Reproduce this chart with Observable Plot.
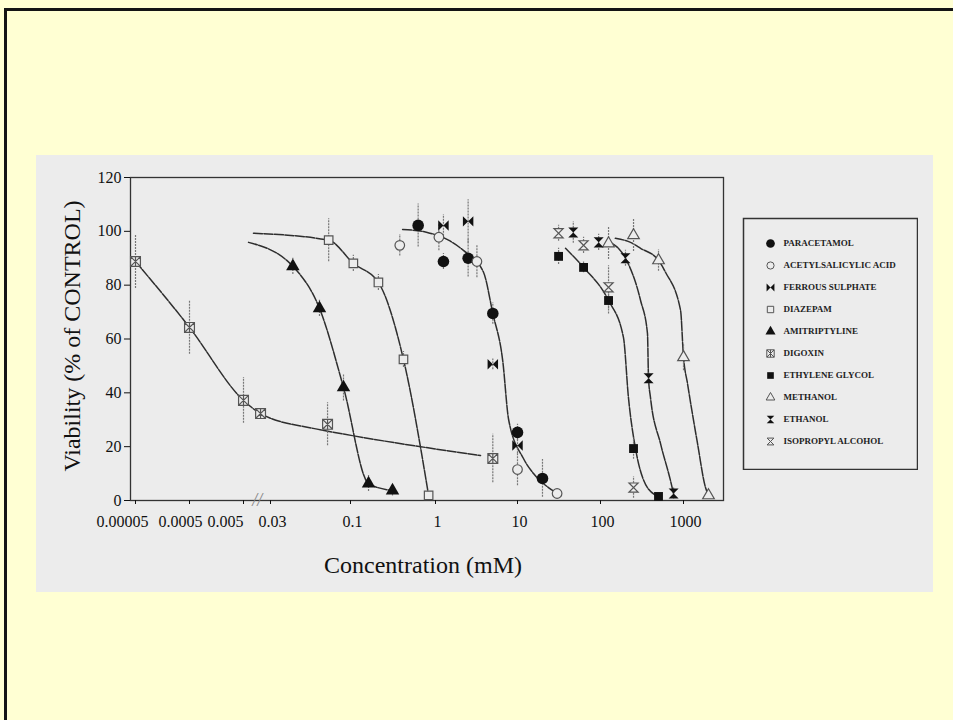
<!DOCTYPE html>
<html><head><meta charset="utf-8">
<script src="https://cdn.jsdelivr.net/npm/d3@7"></script>
<script src="https://cdn.jsdelivr.net/npm/@observablehq/plot@0.6"></script>
<style>
html,body{margin:0;padding:0;}
body{width:953px;height:720px;background:#ffffd3;position:relative;overflow:hidden;font-family:"Liberation Serif",serif;}
#border{position:absolute;left:4px;top:8px;width:1000px;height:800px;border-left:3px solid #141414;border-top:3px solid #141414;}
#panel{position:absolute;left:36px;top:155px;width:897px;height:437px;background:#ececec;}
#chart{position:absolute;left:0;top:0;}
#legend{position:absolute;left:742px;top:217px;}
</style></head><body>
<div id="border"></div><div id="panel"></div><div id="chart"></div><div id="legend"></div>
<script>
// ---- data (concentration mM, viability % of control, error) ----
const xTicks = [0.00005, 0.0005, 0.005, 0.03, 0.1, 1, 10, 100, 1000];
const yTicks = [0, 20, 40, 60, 80, 100, 120];
const axisBreak = 0.0125;
const legendLabels = ["PARACETAMOL","ACETYLSALICYLIC ACID","FERROUS SULPHATE","DIAZEPAM","AMITRIPTYLINE","DIGOXIN","ETHYLENE GLYCOL","METHANOL","ETHANOL","ISOPROPYL ALCOHOL"];

const paracetamol    = [[0.625,102.2,8],[1.25,88.8,3],[2.5,90.0,7],[5,69.5,4],[10,25.3,3],[20,8.2,7]];
const acetylsalicylic= [[0.38,94.8,4],[1.1,97.8,5],[3.2,88.8,6],[10,11.5,6],[30,2.6,1]];
const ferrous        = [[1.25,102.2,4],[2.5,103.7,8],[5,50.6,2],[10,20.4,3]];
const diazepam       = [[0.072,96.7,8],[0.108,88.1,3],[0.213,81.0,3],[0.42,52.4,3],[0.83,1.9,1]];
const amitriptyline  = [[0.042,87.0,3],[0.0627,71.4,3],[0.09,42.0,5],[0.163,6.3,3],[0.312,3.7,2]];
const digoxin        = [[0.00005,88.8,10],[0.0005,64.3,10],[0.005,37.2,8.5],[0.0155,32.3,0],[0.0708,28.3,8],[5,15.6,9]];
const ethyleneGlycol = [[31.25,90.7,3],[62.5,86.6,2],[125,74.3,5],[250,19.3,4],[500,1.5,1]];
const methanol       = [[125,95.5,6],[250,98.5,6],[500,89.2,4],[1000,53.2,5],[2000,1.9,1]];
const ethanol        = [[47,99.6,4],[95,95.9,3],[200,90.0,3],[380,45.4,2],[760,2.6,2]];
const isopropyl      = [[31.25,99.3,3],[62.5,94.8,3],[125,79.2,8],[250,4.8,4]];

// fitted curves
const digoxinCurve       = [[0.00005,88.8],[0.0005,64.3],[0.005,37.2],[0.0155,32.3],[0.057,26.8],[0.086,24.9],[3.54,16.7]];
const amitriptylineCurve = [[0.007,95.9],[0.042,87.0],[0.0627,71.4],[0.09,42.0],[0.163,6.3],[0.312,3.7]];
const diazepamCurve      = [[0.0097,99.3],[0.072,96.7],[0.108,88.1],[0.213,81.0],[0.42,52.4],[0.83,1.9]];
const paracetamolCurve   = [[0.41,100.7],[0.8,99.6],[1.44,96.7],[2.19,92.9],[3.85,84.8],[5.0,69.5],[6.6,52],[7.8,30],[11.8,15.6],[15.6,10],[23.6,4.8],[30.3,2.6]];
const ethyleneGlycolCurve= [[37.9,93.7],[62.5,86.6],[125,74.3],[189,60.6],[217,38.3],[264,19.3],[321,8.6],[460,1.9]];
const ethanolCurve       = [[132,95.9],[200,90.0],[304,74.3],[368,62.1],[379,45.4],[400,38.3],[528,21.2],[697,7.4],[758,2.6]];
const methanolCurve      = [[151,97.4],[230,95.9],[304,93.7],[500,89.2],[607,84.8],[922,70.6],[1000,53.2],[1117,43.5],[1475,21.2],[1841,4.8],[2000,1.9]];

// ---- symbols ----
const panelFill = "#ececec";
const mk = fn => ({draw(ctx, size){ const r = Math.sqrt(size/Math.PI); fn(ctx, r); }});
const hourglass = mk((c,r)=>{ r*=0.95; c.moveTo(-r,-r); c.lineTo(r,-r); c.lineTo(-r,r); c.lineTo(r,r); c.closePath(); });
const bowtie = mk((c,r)=>{ r*=0.95; c.moveTo(-r,-r); c.lineTo(-r,r); c.lineTo(r,-r); c.lineTo(r,r); c.closePath(); });
const squareX = mk((c,r)=>{ r*=0.85; c.moveTo(-r,-r); c.lineTo(r,-r); c.lineTo(r,r); c.lineTo(-r,r); c.closePath(); c.moveTo(-r,-r); c.lineTo(r,r); c.moveTo(r,-r); c.lineTo(-r,r); c.moveTo(0,-r); c.lineTo(0,r); });

const styles = [
  {symbol:"circle", r:5.8, fill:"#111", stroke:"none"},
  {symbol:"circle", r:4.8, fill:panelFill, stroke:"#555"},
  {symbol:bowtie, r:5.5, fill:"#111", stroke:"none"},
  {symbol:"square", r:4.8, fill:panelFill, stroke:"#555"},
  {symbol:"triangle", r:5, fill:"#111", stroke:"none"},
  {symbol:squareX, r:5.8, fill:panelFill, stroke:"#555"},
  {symbol:"square", r:5, fill:"#111", stroke:"none"},
  {symbol:"triangle", r:4.3, fill:panelFill, stroke:"#555"},
  {symbol:hourglass, r:5.3, fill:"#111", stroke:"none"},
  {symbol:hourglass, r:4.8, fill:panelFill, stroke:"#555"}
];
const seriesData = [paracetamol, acetylsalicylic, ferrous, diazepam, amitriptyline, digoxin, ethyleneGlycol, methanol, ethanol, isopropyl];
const curves = [digoxinCurve, amitriptylineCurve, diazepamCurve, paracetamolCurve, ethyleneGlycolCurve, ethanolCurve, methanolCurve];

const fmt = d => String(d);
const axisFont = 16;
const leftGroup = xTicks.slice(0, 2), midGroup = xTicks.slice(2, 3), rightGroup = xTicks.slice(3);

const chart = Plot.plot({
  width: 953, height: 720,
  marginLeft: 130, marginRight: 230, marginTop: 177, marginBottom: 220,
  style: {background: "transparent", fontFamily: "Liberation Serif, serif", color: "#111"},
  x: {type: "log", domain: xTicks, range: [135,189,243,270,350,435,517,600,683], axis: null},
  y: {domain: [0, 120], axis: null},
  marks: [
    Plot.frame({stroke: "#333", strokeWidth: 1.3}),
    ...curves.map(c => Plot.line(c, {x: d => d[0], y: d => d[1], curve: "monotone-x", stroke: "#2e2e2e", strokeWidth: 1.5, strokeDasharray: "9,1.5"})),
    ...seriesData.map(s => Plot.ruleX(s.filter(d => d[2] > 0), {x: d => d[0], y1: d => d[1] - d[2], y2: d => d[1] + d[2], stroke: "#777", strokeWidth: 1.2, strokeDasharray: "2,1"})),
    ...seriesData.map((s, i) => Plot.dot(s, {x: d => d[0], y: d => d[1], symbol: styles[i].symbol, r: styles[i].r, fill: styles[i].fill, stroke: styles[i].stroke, strokeWidth: 1.2})),
    Plot.axisY({ticks: yTicks, tickSize: 6, tickPadding: 3, fontSize: axisFont, label: null, tickFormat: fmt}),
    Plot.axisX({ticks: xTicks, tickSize: 4, tickFormat: () => "", label: null}),
    Plot.text(leftGroup, {x: d => d, y: () => 0, text: fmt, textAnchor: "end", dx: 13, dy: 21, fontSize: axisFont, lineAnchor: "middle", fill: "#111"}),
    Plot.text(midGroup, {x: d => d, y: () => 0, text: fmt, textAnchor: "end", dx: 0, dy: 21, fontSize: axisFont, lineAnchor: "middle", fill: "#111"}),
    Plot.text(rightGroup, {x: d => d, y: () => 0, text: fmt, textAnchor: "middle", dx: 2, dy: 21, fontSize: axisFont, lineAnchor: "middle", fill: "#111"}),
    Plot.text(["//"], {x: () => axisBreak, y: () => 0, fontSize: 18, fill: "#888", fontStyle: "italic"}),
    Plot.text(["Viability (% of CONTROL)"], {frameAnchor: "left", dx: -58, dy: -3, rotate: -90, textAnchor: "middle", lineAnchor: "middle", fontSize: 24, fill: "#111"}),
    Plot.text(["Concentration (mM)"], {frameAnchor: "bottom", dx: -4, dy: 65, textAnchor: "middle", lineAnchor: "middle", fontSize: 24, fill: "#111"})
  ]
});
document.getElementById("chart").appendChild(chart);

const legend = Plot.plot({
  width: 176, height: 253, margin: 0,
  style: {background: "transparent", fontFamily: "Liberation Serif, serif", color: "#111"},
  x: {domain: [0, 1], range: [28, 170], axis: null},
  y: {type: "point", domain: legendLabels, range: [15, 235], axis: null},
  marks: [
    Plot.frame({stroke: "#333", strokeWidth: 1.5, inset: 1}),
    ...legendLabels.map((name, i) => Plot.dot([name], {x: () => 0, y: d => d, symbol: styles[i].symbol, r: styles[i].r * 0.75, fill: styles[i].fill, stroke: styles[i].stroke, strokeWidth: 1})),
    Plot.text(legendLabels, {x: () => 0, y: d => d, dx: 13, textAnchor: "start", fontSize: 9, fontWeight: "bold", fill: "#222"})
  ]
});
document.getElementById("legend").appendChild(legend);
</script></body></html>
